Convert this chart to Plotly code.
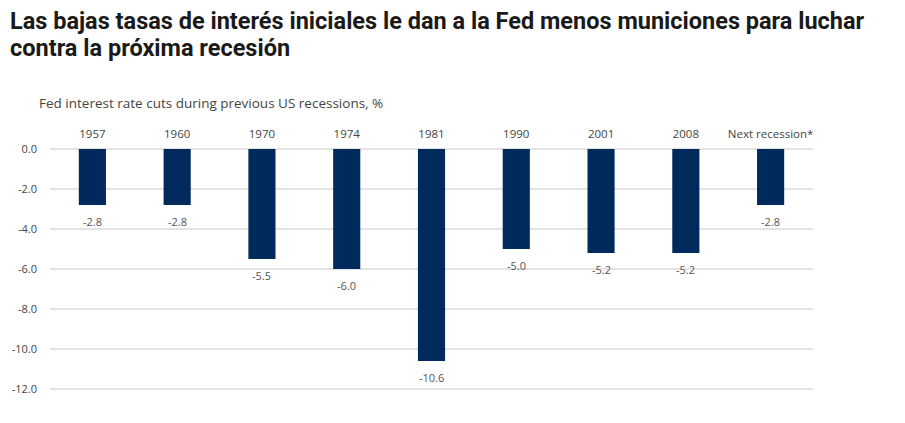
import plotly.graph_objects as go

categories = ["1957", "1960", "1970", "1974", "1981", "1990", "2001", "2008", "Next recession*"]
rate_cuts = [-2.8, -2.8, -5.5, -6.0, -10.6, -5.0, -5.2, -5.2, -2.8]
value_labels = ["-2.8", "-2.8", "-5.5", "-6.0", "-10.6", "-5.0", "-5.2", "-5.2", "-2.8"]
y_ticks = [0, -2, -4, -6, -8, -10, -12]
y_tick_labels = ["0.0", "-2.0", "-4.0", "-6.0", "-8.0", "-10.0", "-12.0"]
title_lines = ["Las bajas tasas de interés iniciales le dan a la Fed menos municiones para luchar",
               "contra la próxima recesión"]

W, H = 905, 423
OFF = 8  # page body margin
ML, MR, MT, MB = 50 - OFF, 92 + OFF, 145 - OFF, 30 + OFF
plot_w = W - ML - MR
plot_h = H - MT - MB

def px_x(px):
    return (px - OFF - ML) / plot_w

def px_y(py):
    return (H - MB - (py - OFF)) / plot_h

xpos = list(range(len(categories)))

fig = go.Figure()
fig.add_trace(go.Bar(
    x=xpos, y=rate_cuts,
    marker=dict(color="#002a5c", line=dict(width=0)),
    hoverinfo="skip",
))

for xi, v, t in zip(xpos, rate_cuts, value_labels):
    fig.add_annotation(x=xi, y=v, text=t, showarrow=False, yanchor="middle", yshift=-16,
                       font=dict(family="Open Sans", size=11, color="#555555"))

for i, line in enumerate(title_lines):
    fig.add_annotation(xref="paper", yref="paper", x=px_x(8), y=px_y(21 + 27 * i),
                       xanchor="left", yanchor="middle", showarrow=False,
                       text="<b>" + line + "</b>",
                       font=dict(family="Roboto", size=23.5, color="#1a1a1a"))

fig.add_annotation(xref="paper", yref="paper", x=px_x(37), y=px_y(103),
                   xanchor="left", yanchor="middle", showarrow=False,
                   text="Fed interest rate cuts during previous US recessions, %",
                   font=dict(family="Open Sans", size=13.5, color="#444444"))

fig.update_layout(
    width=W, height=H,
    margin=dict(l=ML, r=MR, t=MT, b=MB),
    paper_bgcolor="white", plot_bgcolor="white",
    showlegend=False,
    bargap=0.68,
    xaxis=dict(
        side="top", showline=False, showgrid=False, zeroline=False, automargin=False,
        range=[-0.5, len(categories) - 0.5],
        tickvals=xpos, ticktext=categories,
        ticks="", tickfont=dict(family="Open Sans", size=11.5, color="#444444"),
        ticklabelstandoff=4,
    ),
    yaxis=dict(
        range=[-12.2, 0.2], tickvals=y_ticks, ticktext=y_tick_labels, automargin=False,
        showgrid=True, gridcolor="#e3e3e3", gridwidth=1.5, zeroline=False, showline=False,
        ticks="", tickfont=dict(family="Open Sans", size=11, color="#444444"),
        ticklabelstandoff=12,
    ),
)

fig.write_html("out.html")
